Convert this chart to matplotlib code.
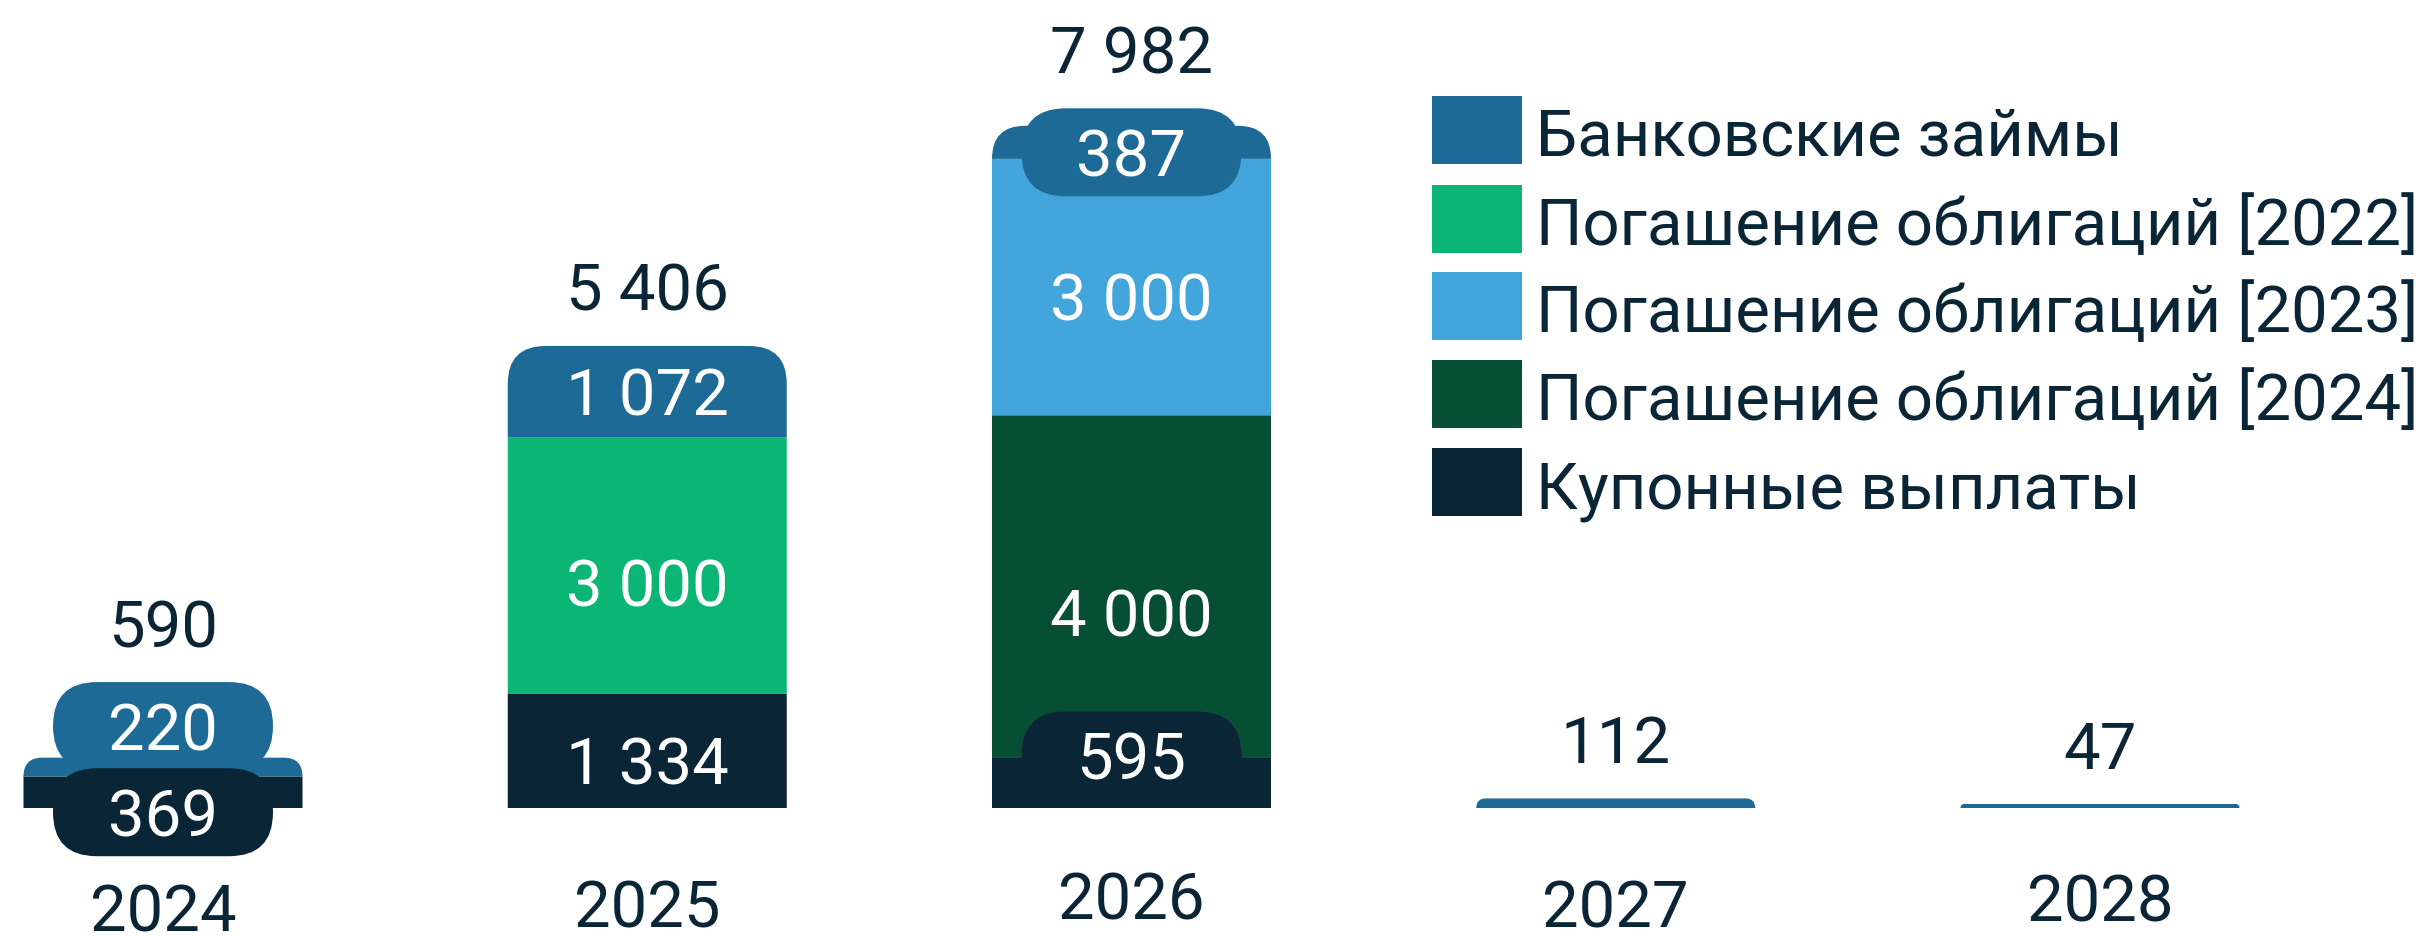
import matplotlib
matplotlib.use('Agg')
import matplotlib.pyplot as plt
from matplotlib.path import Path
from matplotlib.patches import PathPatch, FancyBboxPatch, Rectangle, BoxStyle

# data
years = ['2024', '2025', '2026', '2027', '2028']
coupons = [369, 1334, 595, 0, 0]
bonds_2024 = [0, 0, 4000, 0, 0]
bonds_2022 = [0, 3000, 0, 0, 0]
bonds_2023 = [0, 0, 3000, 0, 0]
bank_loans = [220, 1072, 387, 112, 47]
totals = [590, 5406, 7982, 112, 47]

series_names = ['Банковские займы', 'Погашение облигаций [2022]',
                'Погашение облигаций [2023]', 'Погашение облигаций [2024]',
                'Купонные выплаты']

C_BANK = '#1D6A96'
C_2022 = '#0BB574'
C_2023 = '#42A5DC'
C_2024 = '#064F35'
C_COUP = '#0A2536'
TEXT = '#0A2536'

# stacking order, bottom to top
stack = [(coupons, C_COUP), (bonds_2024, C_2024), (bonds_2022, C_2022),
         (bonds_2023, C_2023), (bank_loans, C_BANK)]
legend_colors = [C_BANK, C_2022, C_2023, C_2024, C_COUP]

# label offsets in px (positive = up): pills for small segments, plain text for big ones
pill_shift = {(0, 0): -20, (0, 4): 41, (2, 0): 27, (2, 4): -10}
text_shift = {(1, 0): -10, (1, 2): -17, (1, 4): 0, (2, 1): -26, (2, 3): -9}
year_y = [931, 927, 919, 928, 921]

W, H = 2432, 936
PX_X = 484.25          # px per category
VPP = 11.70            # value units per px
X0, BASE = 163, 808    # px position of first category and baseline (from top)

plt.rcParams['font.family'] = ['Roboto', 'DejaVu Sans']
FS = 47

fig = plt.figure(figsize=(W / 100, H / 100), dpi=100)
ax = fig.add_axes([0, 0, 1, 1])
ax.axis('off')
ax.set_xlim(-X0 / PX_X, (W - X0) / PX_X)
ax.set_ylim(-(H - BASE) * VPP, BASE * VPP)


def dx(px):
    return px / PX_X


def dy(px):
    return px * VPP


def rounded_top(x0, x1, y0, y1, r_px, color):
    h_px = (y1 - y0) / VPP
    r = min(r_px, h_px)
    rx, ry = dx(r), min(dy(r), y1 - y0)
    verts = [(x0, y0), (x0, y1 - ry), (x0, y1), (x0 + rx, y1), (x1 - rx, y1),
             (x1, y1), (x1, y1 - ry), (x1, y0), (x0, y0)]
    codes = [Path.MOVETO, Path.LINETO, Path.CURVE3, Path.CURVE3, Path.LINETO,
             Path.CURVE3, Path.CURVE3, Path.LINETO, Path.CLOSEPOLY]
    ax.add_patch(PathPatch(Path(verts, codes), fc=color, ec='none', zorder=2))


def fig_y(px_from_top):
    return 1 - px_from_top / H


def fmt(v):
    return f'{v:,}'.replace(',', ' ')


bar_w = dx(279)
pill_w, pill_h = dx(220), dy(88)

for i, year in enumerate(years):
    segs = [(k, vals[i], col) for k, (vals, col) in enumerate(stack) if vals[i] > 0]
    bottom = 0
    pills = []
    for j, (k, v, col) in enumerate(segs):
        top = bottom + v
        is_top = j == len(segs) - 1
        rounded_top(i - bar_w / 2, i + bar_w / 2, bottom, top, 38 if is_top else 0, col)
        if len(segs) > 1:
            cy = (bottom + top) / 2
            if v < 1000:
                pills.append((k, cy + dy(pill_shift.get((i, k), 0)), v, col))
            else:
                ty = cy + dy(text_shift.get((i, k), 0)) - dy(24)
                ax.text(i, ty, fmt(v), color='white', fontsize=FS,
                        ha='center', va='baseline', zorder=4)
        bottom = top

    upper = totals[i]
    for k, cy, v, col in sorted(pills, key=lambda p: -p[1]):
        ax.add_patch(FancyBboxPatch(
            (i - pill_w / 2, cy - pill_h / 2), pill_w, pill_h,
            boxstyle=BoxStyle.Round(pad=0, rounding_size=dx(44)),
            mutation_aspect=dy(44) / dx(44), fc=col, ec='none', zorder=3))
        ax.text(i, cy - dy(24), str(v), color='white', fontsize=FS,
                ha='center', va='baseline', zorder=4)
        upper = max(upper, cy + pill_h / 2)

    ax.text(i, upper + dy(35), fmt(totals[i]), color=TEXT,
            fontsize=FS, ha='center', va='baseline')
    ax.text(i, BASE * VPP - dy(year_y[i]), year, color=TEXT, fontsize=FS,
            ha='center', va='baseline')

# legend
row_centers = [130, 219, 306, 394, 482]
for name, col, yc in zip(series_names, legend_colors, row_centers):
    fig.add_artist(Rectangle((1432 / W, fig_y(yc + 34)), 90 / W, 68 / H,
                             transform=fig.transFigure, fc=col, ec='none'))
    fig.text(1536 / W, fig_y(yc + 26), name, color=TEXT, fontsize=FS,
             ha='left', va='baseline')

fig.savefig('out.png', dpi=100)
